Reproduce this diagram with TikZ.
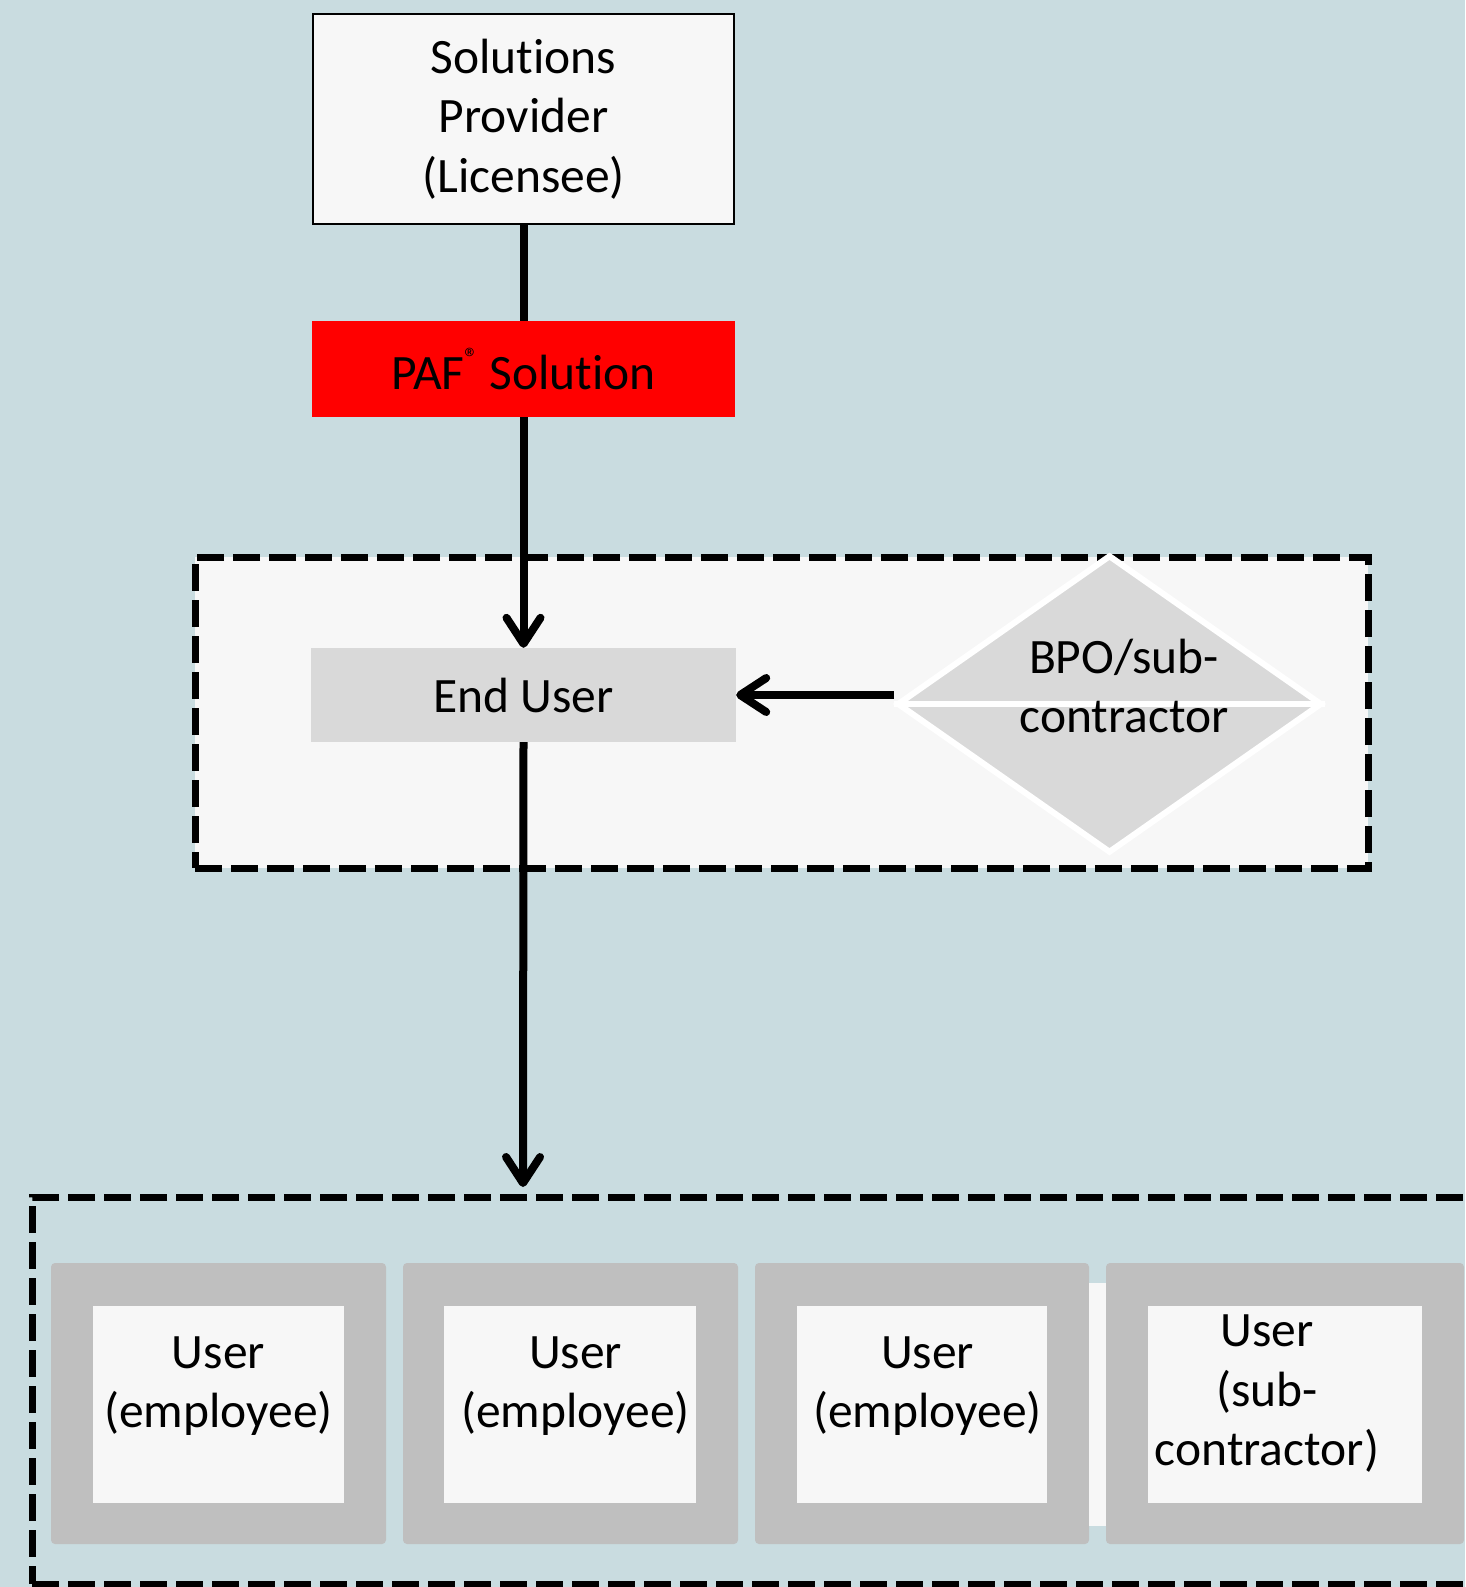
\documentclass[tikz,border=0pt]{standalone}
\usepackage{fontspec}
\setmainfont[Ligatures=NoCommon]{Carlito}
\usetikzlibrary{arrows.meta,shapes.geometric}
\definecolor{bg}{HTML}{C9DCE0}
\definecolor{paper}{HTML}{F7F7F7}
\definecolor{lgray}{HTML}{D9D9D9}
\definecolor{mgray}{HTML}{BFBFBF}
\definecolor{pafred}{HTML}{FF0000}
\begin{document}
\begin{tikzpicture}[x=1pt,y=-1pt,
  txt/.style={font=\fontsize{49.5}{59.5}\selectfont, align=center, inner sep=0pt},
  boxnode/.style={rectangle, inner sep=0pt, txt},
  dashbox/.style={rectangle, inner sep=0pt, line width=7pt, dash pattern=on 27pt off 9pt},
  conn/.style={line width=8pt},
  arr/.style={conn, -{Straight Barb[length=26pt,width=34pt,line cap=round,line join=round]}},
  outerbox/.style={rectangle, fill=mgray, rounded corners=4pt, inner sep=0pt, minimum height=281pt},
  innerbox/.style={rectangle, fill=paper, inner sep=0pt, minimum height=197pt}
]
% background
\fill[bg] (0,0) rectangle (1465,1587);
\useasboundingbox (0,0) rectangle (1465,1587);

% top nodes
\node[boxnode, fill=paper, draw=black, line width=2pt, minimum width=421pt, minimum height=210pt] (sp) at (523.5,119) {Solutions\\Provider\\(Licensee)};
\node[boxnode, fill=pafred, minimum width=423pt, minimum height=96pt] (paf) at (523.5,369)
  {PAF\raisebox{0.46em}{\fontsize{28}{28}\selectfont ®} Solution};

% end-user group
\node[dashbox, fill=paper, draw=black, minimum width=1173pt, minimum height=311pt] (eugroup) at (781.5,712.5) {};
\node[boxnode, fill=lgray, minimum width=425pt, minimum height=94pt] (eu) at (523.5,695) {End User};
\node[diamond, aspect=1.43, inner sep=0pt, fill=lgray, draw=white, line width=6pt,
      minimum width=425pt, minimum height=298pt] (bpo) at (1109.5,704) {};
\draw[white, line width=6pt] (bpo.west) -- (bpo.east);
\node[txt] (bpot) at (1124,686) {BPO/sub-\\contractor};

% users group
\node[dashbox, draw=black, minimum width=1458pt, minimum height=387pt] (users) at (761,1390.5) {};
\coordinate (usertop) at (523,1187);

\node[outerbox, minimum width=335pt] (u1) at (218.5,1403.5) {};
\node[outerbox, minimum width=335pt] (u2) at (570.5,1403.5) {};
\node[outerbox, minimum width=334pt] (u3) at (922,1403.5) {};
\fill[paper] (1089,1283) rectangle (1300,1526);
\node[outerbox, minimum width=358pt] (u4) at (1285,1403.5) {};

\node[innerbox, minimum width=251pt] (i1) at (218.5,1404.5) {};
\node[innerbox, minimum width=252pt] (i2) at (570,1404.5) {};
\node[innerbox, minimum width=250pt] (i3) at (922,1404.5) {};
\node[innerbox, minimum width=274pt] (i4) at (1285,1404.5) {};

\node[txt] (t1) at (218.5,1386) {User\\(employee)};
\node[txt] (t2) at (575.5,1386) {User\\(employee)};
\node[txt] (t3) at (927.5,1386) {User\\(employee)};
\node[txt] (t4) at (1267,1394) {User\\(sub-\\contractor)};

% connectors
\draw[conn] (sp.south) -- (paf.north);
\draw[arr] (paf.south) -- (eu.north);
\draw[arr] (eu.east -| bpo.west) -- (eu.east);
\draw[arr] (eu.south) -- (usertop);
\end{tikzpicture}
\end{document}
